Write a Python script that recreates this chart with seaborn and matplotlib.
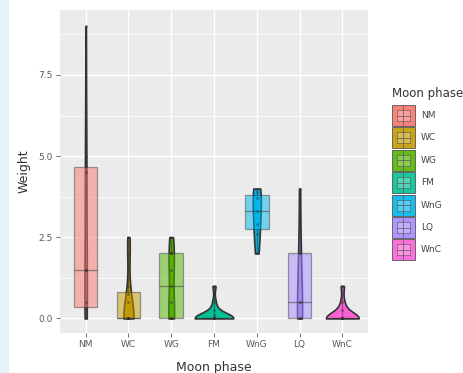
import numpy as np
import pandas as pd
import matplotlib
matplotlib.use("Agg")
import matplotlib.pyplot as plt
import seaborn as sns
from matplotlib.patches import Rectangle
from matplotlib.colors import to_rgba

# ---- data ----
phases = ["NM", "WC", "WG", "FM", "WnG", "LQ", "WnC"]
colors = ["#F8766D", "#C49A00", "#53B400", "#00C094", "#00B6EB", "#A58AFF", "#FB61D7"]
nm = [0, 0.2, 0.3, 0.5, 1.5, 1.5, 4.5, 4.7, 5.0, 9.0]
wc = [0] * 10 + [0.5, 0.75, 1.0, 2.0, 2.25, 2.5]
wg = [0, 0, 0, 0, 0.5, 1.0, 1.5, 2.0, 2.0, 2.0, 2.5]
fm = [0] * 12 + [0.1, 0.25, 0.5, 1.0]
wng = [2.0, 2.6, 2.9, 3.3, 3.7, 3.9, 4.0]
lq = [0, 0, 0, 0.5, 0.5, 2.0, 2.0, 4.0]
wnc = [0] * 10 + [0.25, 0.5, 1.0]
yticks = [0, 2.5, 5.0, 7.5]
ytick_labels = ["0.0", "2.5", "5.0", "7.5"]

groups = [nm, wc, wg, fm, wng, lq, wnc]
df = pd.DataFrame({
    "phase": np.concatenate([[p] * len(g) for p, g in zip(phases, groups)]),
    "weight": np.concatenate(groups),
})

W, H = 464, 373
fig = plt.figure(figsize=(W / 100, H / 100), dpi=100)
fig.patch.set_facecolor("white")

# overlay axes in pixel coordinates for legend and page strip
pax = fig.add_axes([0, 0, 1, 1], zorder=0)
pax.set_xlim(0, W)
pax.set_ylim(H, 0)
pax.axis("off")
pax.add_patch(Rectangle((0, 0), 9, H, facecolor="#E4F2FA", edgecolor="none"))

ax = fig.add_axes([60 / W, 1 - 333 / H, 308 / W, 323 / H], zorder=1)
ax.set_facecolor("#EBEBEB")

pal = dict(zip(phases, colors))

sns.violinplot(data=df, x="phase", y="weight", hue="phase", order=phases,
               hue_order=phases, palette=pal, saturation=1, density_norm="area",
               common_norm=True, cut=0, inner=None, width=0.9, linewidth=1.2,
               linecolor="#333333", legend=False, ax=ax)
n_patches = len(ax.patches)
n_lines = len(ax.lines)
sns.boxplot(data=df, x="phase", y="weight", hue="phase", order=phases,
            hue_order=phases, palette=pal, saturation=1, width=0.55,
            whis=(0, 100), showfliers=False, showcaps=False, linewidth=0.9,
            linecolor="#333333", legend=False, ax=ax)
for p in ax.patches[n_patches:]:
    fc = p.get_facecolor()
    p.set_facecolor(to_rgba(fc[:3], 0.5))
    p.set_edgecolor(to_rgba("#333333", 0.45))
for ln in ax.lines[n_lines:]:
    ln.set_color(to_rgba("#333333", 0.5))
sns.stripplot(data=df, x="phase", y="weight", order=phases, jitter=False,
              color="#333333", size=2, alpha=0.5, ax=ax)

ax.set_xlim(-0.6, 6.6)
ax.set_ylim(-0.45, 9.5)
ax.set_yticks(yticks)
ax.set_yticklabels(ytick_labels)
ax.set_yticks([1.25, 3.75, 6.25, 8.75], minor=True)
ax.grid(True, which="major", color="white", linewidth=1.0)
ax.grid(True, which="minor", axis="y", color="white", linewidth=0.5)
ax.set_axisbelow(True)
for s in ax.spines.values():
    s.set_visible(False)
ax.tick_params(axis="both", which="major", length=3, width=0.6, color="#555555",
               labelsize=6.5, labelcolor="#5A5A5A", pad=2)
ax.tick_params(axis="y", which="minor", length=0)
ax.set_xlabel("Moon phase", fontsize=9, color="#333333")
ax.set_ylabel("Weight", fontsize=9, color="#333333")
ax.xaxis.label.set_va("center")
ax.yaxis.label.set_va("center")
ax.xaxis.set_label_coords(0.5, (333 - 367) / 323)
ax.yaxis.set_label_coords((24 - 60) / 308, 0.5)

# legend (ggplot style, drawn in pixel coordinates)
pax.text(392, 93, "Moon phase", fontsize=8.5, color="#333333", va="center", ha="left")
key_top, pitch, key_w, key_h = 105, 22.4, 23, 21
for i, (lab, c) in enumerate(zip(phases, colors)):
    y0 = key_top + i * pitch
    pax.add_patch(Rectangle((392, y0), key_w, key_h, facecolor=to_rgba(c, 0.9),
                            edgecolor="#555555", linewidth=0.6))
    pax.add_patch(Rectangle((397, y0 + 5), key_w - 10, key_h - 10,
                            facecolor=to_rgba("white", 0.25), edgecolor="#555555",
                            linewidth=0.4))
    pax.plot([397, 410], [y0 + key_h / 2] * 2, color="#555555", linewidth=0.5)
    pax.plot([403.5, 403.5], [y0 + 1, y0 + key_h - 1], color="#555555", linewidth=0.5)
    pax.text(421, y0 + key_h / 2, lab, fontsize=6.5, color="#444444",
             va="center", ha="left")

fig.savefig("out.png", dpi=100)
